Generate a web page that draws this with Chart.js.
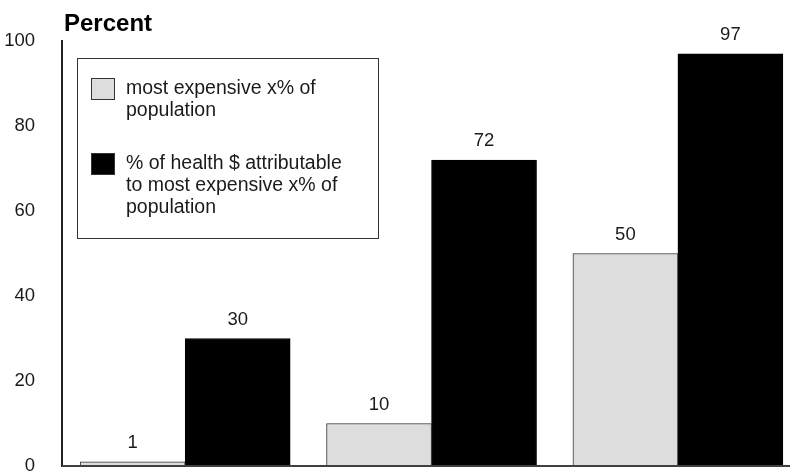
<!DOCTYPE html>
<html>
<head>
<meta charset="utf-8">
<script src="https://cdn.jsdelivr.net/npm/chart.js@4/dist/chart.umd.min.js"></script>
<style>
  html, body { margin: 0; padding: 0; background: #ffffff; }
  #wrap { width: 791px; height: 474px; }
</style>
</head>
<body>
<div id="wrap"><canvas id="c" width="791" height="474"></canvas></div>
<script>
// ---- data ----
const categories = ['1%', '10%', '50%'];
const populationShare = [1, 10, 50];
const spendingShare = [30, 72, 97];
const seriesNames = [
  ['most expensive x% of', 'population'],
  ['% of health $ attributable', 'to most expensive x% of', 'population']
];
const yTicks = [0, 20, 40, 60, 80, 100];
const axisTitle = 'Percent';

const FONT = "'Liberation Sans', Arial, Helvetica, sans-serif";
const seriesColors = ['#dddddd', '#000000'];
const seriesBorders = ['#333333', '#000000'];

const toPoints = arr => arr.map((v, i) => ({ x: i, y: v }));

const labelsPlugin = {
  id: 'valueLabels',
  afterDatasetsDraw(chart) {
    const ctx = chart.ctx;
    ctx.save();
    ctx.font = '18.5px ' + FONT;
    ctx.fillStyle = '#1a1a1a';
    ctx.textAlign = 'center';
    ctx.textBaseline = 'middle';
    chart.data.datasets.forEach((ds, di) => {
      const meta = chart.getDatasetMeta(di);
      meta.data.forEach((el, i) => {
        ctx.fillText(String(ds.data[i].y), el.x, el.y - 19);
      });
    });
    ctx.restore();
  }
};

const decorPlugin = {
  id: 'decor',
  afterDraw(chart) {
    const ctx = chart.ctx;
    const ca = chart.chartArea;
    ctx.save();
    // baseline (x axis line)
    const yb = chart.scales.y.getPixelForValue(0);
    ctx.strokeStyle = '#404040';
    ctx.lineWidth = 2;
    ctx.beginPath();
    ctx.moveTo(ca.left, yb);
    ctx.lineTo(ca.right, yb);
    ctx.stroke();

    // axis title
    ctx.font = 'bold 24px ' + FONT;
    ctx.fillStyle = '#000';
    ctx.textAlign = 'left';
    ctx.textBaseline = 'alphabetic';
    ctx.fillText(axisTitle, 64, 31);

    // legend box
    const bx = 77.5, by = 58.5, bw = 301, bh = 180;
    ctx.fillStyle = '#ffffff';
    ctx.fillRect(bx, by, bw, bh);
    ctx.strokeStyle = '#333';
    ctx.lineWidth = 1;
    ctx.strokeRect(bx, by, bw, bh);

    const itemTops = [78, 153];
    ctx.font = '19.5px ' + FONT;
    ctx.textBaseline = 'alphabetic';
    chart.data.datasets.forEach((ds, di) => {
      const top = itemTops[di];
      ctx.fillStyle = ds.backgroundColor;
      ctx.fillRect(91.5, top + 0.5, 23, 21);
      ctx.strokeStyle = '#333';
      ctx.strokeRect(91.5, top + 0.5, 23, 21);
      ctx.fillStyle = '#1a1a1a';
      const lines = seriesNames[di];
      lines.forEach((ln, li) => {
        ctx.fillText(ln, 126, top + 16 + li * 22);
      });
    });
    ctx.restore();
  }
};

new Chart(document.getElementById('c'), {
  type: 'bar',
  data: {
    labels: categories,
    datasets: [
      {
        label: seriesNames[0].join(' '),
        data: toPoints(populationShare),
        backgroundColor: seriesColors[0],
        borderColor: seriesBorders[0],
        borderWidth: 1,
        barThickness: 105
      },
      {
        label: seriesNames[1].join(' '),
        data: toPoints(spendingShare),
        backgroundColor: seriesColors[1],
        borderColor: seriesBorders[1],
        borderWidth: 1,
        barThickness: 105
      }
    ]
  },
  options: {
    responsive: false,
    animation: false,
    devicePixelRatio: 1,
    layout: { padding: { left: 0, right: 1, top: 41, bottom: 8 } },
    plugins: {
      legend: { display: false },
      tooltip: { enabled: false },
      title: { display: false }
    },
    scales: {
      x: {
        type: 'linear',
        display: false,
        min: -0.5,
        max: 2.455,
        offset: false
      },
      y: {
        min: 0,
        max: 100,
        afterBuildTicks(s) { s.ticks = yTicks.map(v => ({ value: v })); },
        ticks: {
          padding: 19,
          color: '#1a1a1a',
          font: { family: FONT, size: 18.5 }
        },
        grid: { display: false },
        border: { display: true, color: '#222', width: 2 },
        afterFit(s) { s.width = 62; s.paddingTop = 0; s.paddingBottom = 0; }
      }
    }
  },
  plugins: [labelsPlugin, decorPlugin]
});
</script>
</body>
</html>
